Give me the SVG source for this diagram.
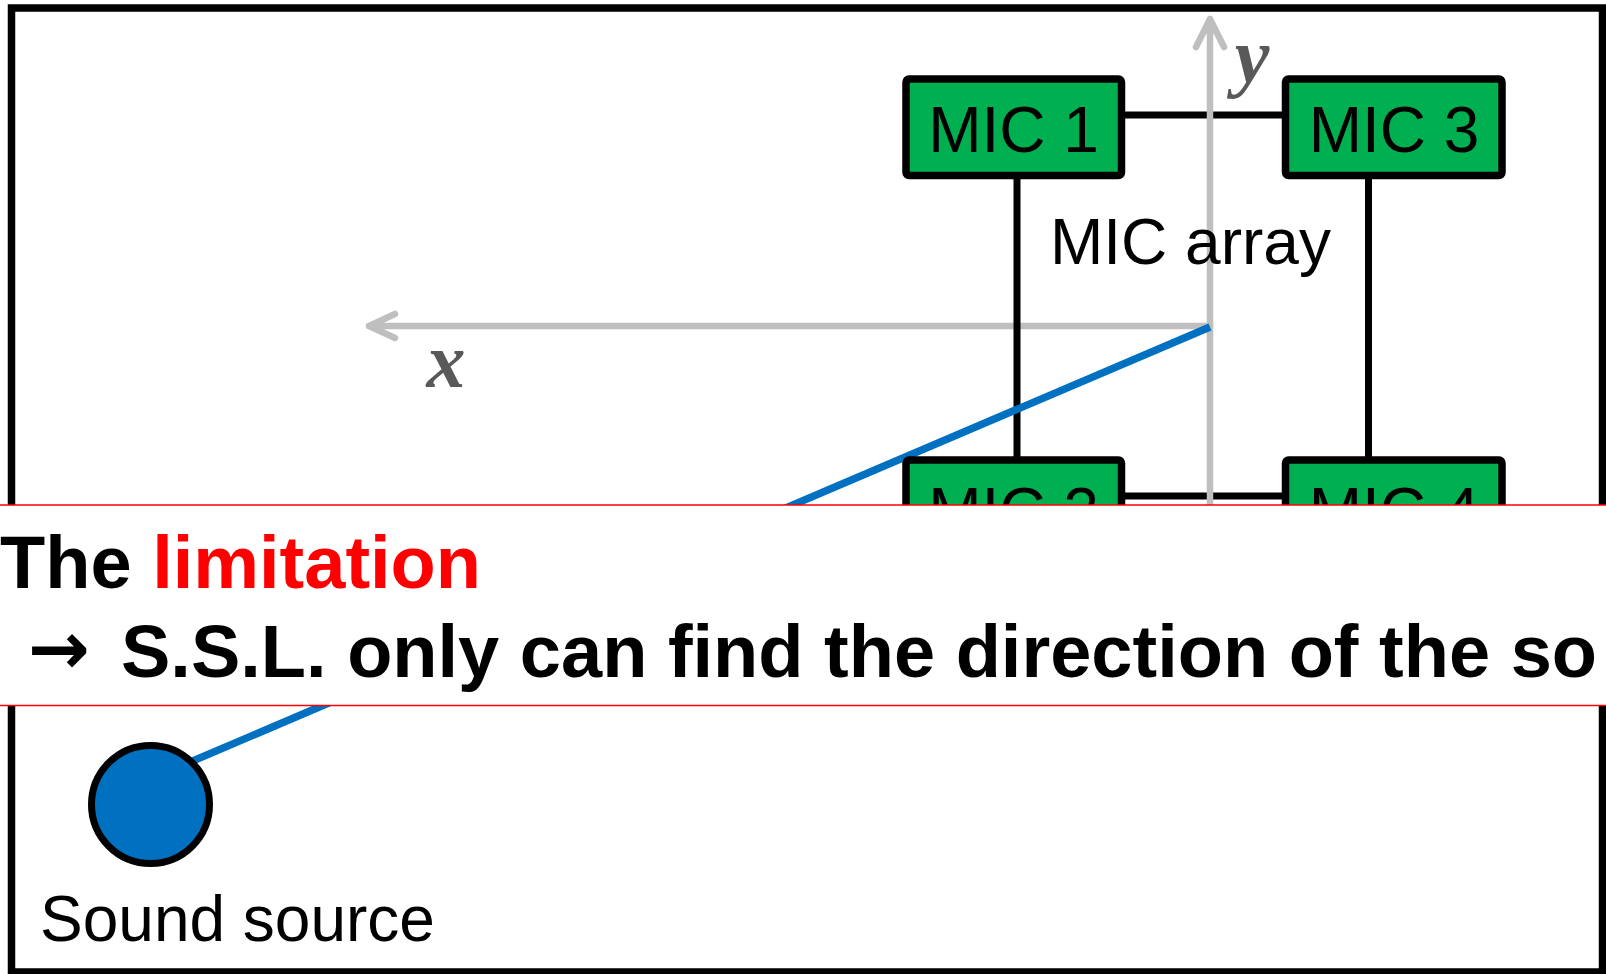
<svg xmlns="http://www.w3.org/2000/svg" width="1606" height="974" viewBox="0 0 1606 974">
<style>
.frame{fill:#fff;stroke:#000;stroke-width:7.5}
.mic rect{fill:#00B050;stroke:#000;stroke-width:7.5}
.lbl{font-family:"Liberation Sans",Arial,sans-serif;font-size:64px;fill:#000}
.mic text{text-anchor:middle}
.link{stroke:#000;stroke-width:7;fill:none}
.axis{stroke:#BFBFBF;stroke-width:6.5;fill:none;stroke-linecap:round;stroke-linejoin:round}
.axlbl{font-family:"Liberation Serif","Times New Roman",serif;font-style:italic;font-weight:bold;font-size:78px;fill:#595959}
.ray{stroke:#0070C0;stroke-width:7.5;fill:none}
.note{font-family:"Liberation Sans",Arial,sans-serif;font-weight:bold;font-size:74px;fill:#000}
.arrow{font-family:"DejaVu Sans",sans-serif;font-weight:bold;font-size:74px}
</style>
<rect x="0" y="0" width="1606" height="974" fill="#fff"/>
<rect id="frame" class="frame" x="11.5" y="8" width="1591" height="964"/>
<g id="connectors">
  <path id="x-axis" class="axis" d="M1210,326 H369 M395,314 L369,326 L395,338"/>
  <path class="link" d="M1121,115 H1286"/>
  <path class="link" d="M1121,496 H1286"/>
  <path class="link" d="M1017,175 V461"/>
  <path class="link" d="M1368.5,175 V461"/>
  <path id="y-axis" class="axis" d="M1210,620 V19 M1196,47 L1210,19 L1224,47"/>
  <path id="ray" class="ray" d="M1210,327 L188,763"/>
</g>
<g id="mic1" class="mic"><rect x="906" y="79" width="215.5" height="96.5" rx="3"/><text class="lbl" x="1013.5" y="151.5">MIC 1</text></g>
<g id="mic3" class="mic"><rect x="1285.5" y="79" width="216.5" height="96.5" rx="3"/><text class="lbl" x="1394" y="151.5">MIC 3</text></g>
<g id="mic2" class="mic"><rect x="906" y="460" width="215.5" height="96.5" rx="3"/><text class="lbl" x="1013.5" y="532.5">MIC 2</text></g>
<g id="mic4" class="mic"><rect x="1285.5" y="460" width="216.5" height="96.5" rx="3"/><text class="lbl" x="1394" y="532.5">MIC 4</text></g>
<g id="mic-array-label"><text class="lbl" x="1050" y="264">MIC array</text></g>
<g id="axis-labels">
  <text class="axlbl" x="446" y="387" text-anchor="middle">x</text>
  <text class="axlbl" x="1252" y="82" text-anchor="middle">y</text>
</g>
<g id="sound-source">
  <circle cx="150.5" cy="804.5" r="59" fill="#0070C0" stroke="#000" stroke-width="7"/>
  <text class="lbl" x="40" y="941" font-size="64.5">Sound source</text>
</g>
<g id="overlay">
  <rect x="-5" y="505" width="1620" height="200.5" fill="#fff" stroke="#FF0000" stroke-width="1.5"/>
  <text class="note"><tspan x="0" y="588">The </tspan><tspan fill="#FF0000">limitation</tspan><tspan class="arrow" x="28" y="674">→</tspan><tspan x="121" y="677">S.S.L. only can find the direction of the so</tspan></text>
</g>
</svg>
